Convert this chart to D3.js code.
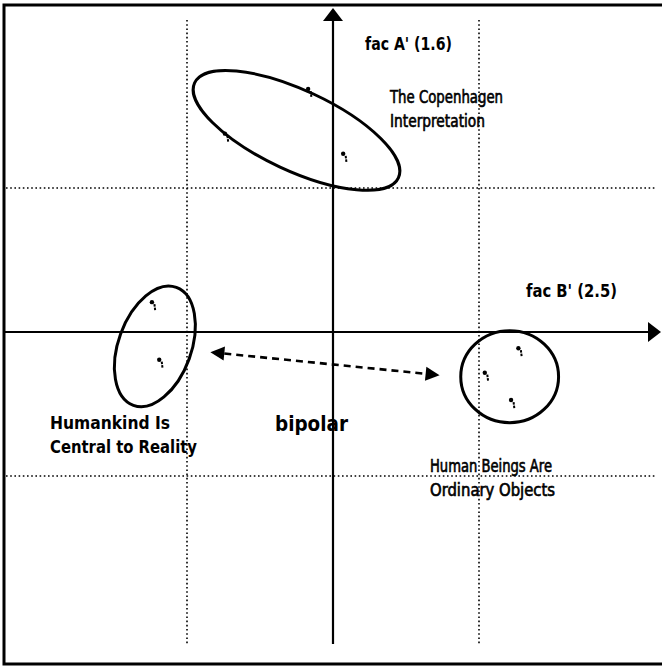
<!DOCTYPE html>
<html><head><meta charset="utf-8">
<script src="https://cdn.jsdelivr.net/npm/d3@7"></script>
<style>
html,body{margin:0;padding:0;background:#fff;}
svg{display:block;}
</style></head>
<body>
<script>
// ---- data (factor-space units; grid lines at ±1) ----
const gridTicks = [-1, 1];
const axisLabels = ["fac A' (1.6)", "fac B' (2.5)"];
const clusterNames = ["The Copenhagen Interpretation", "Humankind Is Central to Reality", "Human Beings Are Ordinary Objects"];
const clusterCx = [-0.25, -1.22, 1.21];
const clusterCy = [1.40, -0.10, -0.31];
const clusterRx = [0.77, 0.43, 0.335];
const clusterRy = [0.275, 0.25, 0.315];
const clusterRot = [25, -70, 0];
const pointCluster = [0, 0, 0, 1, 1, 2, 2, 2];
const pointX = [-0.16, -0.73, 0.08, -1.23, -1.18, 1.28, 1.05, 1.23];
const pointY = [1.67, 1.36, 1.22, 0.19, -0.21, -0.13, -0.30, -0.49];
const bipolarFrom = [-0.84, -0.14];
const bipolarTo = [0.73, -0.30];
const bipolarLabel = "bipolar";

const W = 662, H = 667;
const svg = d3.select("body").append("svg").attr("width", W).attr("height", H);

const x = d3.scaleLinear().domain([-1, 1]).range([187, 479]);
const y = d3.scaleLinear().domain([-1, 1]).range([476, 188]);
const px = d => Math.abs(x(d) - x(0));

// frame
svg.append("path").attr("d", "M662,5 H4 V664 H662")
  .attr("fill", "none").attr("stroke", "#000").attr("stroke-width", 3);

// dotted grid lines
const dot = {stroke: "#000", w: 1.6, dash: "1.6,2.6"};
svg.selectAll("line.gx").data(gridTicks).join("line").attr("class", "gx")
  .attr("x1", d => x(d)).attr("x2", d => x(d)).attr("y1", 20).attr("y2", 644)
  .attr("stroke", dot.stroke).attr("stroke-width", dot.w).attr("stroke-dasharray", dot.dash);
svg.selectAll("line.gy").data(gridTicks).join("line").attr("class", "gy")
  .attr("y1", d => y(d)).attr("y2", d => y(d)).attr("x1", 6).attr("x2", 657)
  .attr("stroke", dot.stroke).attr("stroke-width", dot.w).attr("stroke-dasharray", dot.dash);

// axes with arrows
svg.append("line").attr("x1", 4).attr("x2", 650).attr("y1", y(0)).attr("y2", y(0))
  .attr("stroke", "#000").attr("stroke-width", 2.2);
svg.append("path").attr("d", `M661,${y(0)} L648,${y(0) - 10} L648,${y(0) + 10} Z`).attr("fill", "#000");
svg.append("line").attr("x1", x(0)).attr("x2", x(0)).attr("y1", 644).attr("y2", 20)
  .attr("stroke", "#000").attr("stroke-width", 2.2);
svg.append("path").attr("d", `M${x(0)},8 L${x(0) - 10},21 L${x(0) + 10},21 Z`).attr("fill", "#000");

// cluster ellipses
svg.selectAll("ellipse.cl").data(clusterNames).join("ellipse").attr("class", "cl")
  .attr("cx", 0).attr("cy", 0)
  .attr("rx", (d, i) => px(clusterRx[i])).attr("ry", (d, i) => px(clusterRy[i]))
  .attr("transform", (d, i) => `translate(${x(clusterCx[i])},${y(clusterCy[i])}) rotate(${clusterRot[i]})`)
  .attr("fill", "none").attr("stroke", "#000").attr("stroke-width", 3);

// points (small scanned marks)
const pg = svg.selectAll("g.pt").data(pointX).join("g").attr("class", "pt")
  .attr("transform", (d, i) => `translate(${x(pointX[i])},${y(pointY[i])})`);
pg.append("circle").attr("cx", -1.5).attr("cy", -2.5).attr("r", 2.2).attr("fill", "#000");
pg.append("line").attr("x1", 1).attr("x2", 1.8).attr("y1", -0.5).attr("y2", 6)
  .attr("stroke", "#000").attr("stroke-width", 2).attr("stroke-dasharray", "2.5,1");

// bipolar double arrow
const ax1 = x(bipolarFrom[0]), ay1 = y(bipolarFrom[1]), ax2 = x(bipolarTo[0]), ay2 = y(bipolarTo[1]);
const ang = Math.atan2(ay2 - ay1, ax2 - ax1);
const hl = 14, hw = 7;
function head(tx, ty, a) {
  const bx = tx - hl * Math.cos(a), by = ty - hl * Math.sin(a);
  return `M${tx},${ty} L${bx + hw * Math.sin(a)},${by - hw * Math.cos(a)} L${bx - hw * Math.sin(a)},${by + hw * Math.cos(a)} Z`;
}
svg.append("line")
  .attr("x1", ax1 + hl * Math.cos(ang)).attr("y1", ay1 + hl * Math.sin(ang))
  .attr("x2", ax2 - hl * Math.cos(ang)).attr("y2", ay2 - hl * Math.sin(ang))
  .attr("stroke", "#000").attr("stroke-width", 2.6).attr("stroke-dasharray", "7,5");
svg.append("path").attr("d", head(ax1, ay1, ang + Math.PI)).attr("fill", "#000");
svg.append("path").attr("d", head(ax2, ay2, ang)).attr("fill", "#000");

// text
const fam = "'DejaVu Sans Condensed','DejaVu Sans',sans-serif";
function txt(lines, tx, ty, size, weight, lh, len, sw) {
  const t = svg.append("text").attr("font-family", fam).attr("font-size", size)
    .attr("font-weight", weight).attr("fill", "#000");
  if (sw) t.attr("stroke", "#000").attr("stroke-width", sw);
  lines.forEach((s, k) => {
    const ts = t.append("tspan").attr("x", tx).attr("y", ty + k * lh).text(s);
    if (len && len[k]) ts.attr("textLength", len[k]).attr("lengthAdjust", "spacingAndGlyphs");
  });
  return t;
}
txt([axisLabels[0]], 365, 50, 17, "bold", 0, [87]);
txt([axisLabels[1]], 526, 297, 17, "bold", 0, [91]);
txt(["The Copenhagen", "Interpretation"], 390, 103, 17, "normal", 24, [113, 95], 0.6);
txt(["Humankind Is", "Central to Reality"], 50, 429, 18, "bold", 24, [120, 147]);
txt([bipolarLabel], 275, 431, 21, "bold", 0, [73]);
txt(["Human Beings Are", "Ordinary Objects"], 430, 472, 17, "normal", 24, [122, 125], 0.6);
</script>
</body></html>
